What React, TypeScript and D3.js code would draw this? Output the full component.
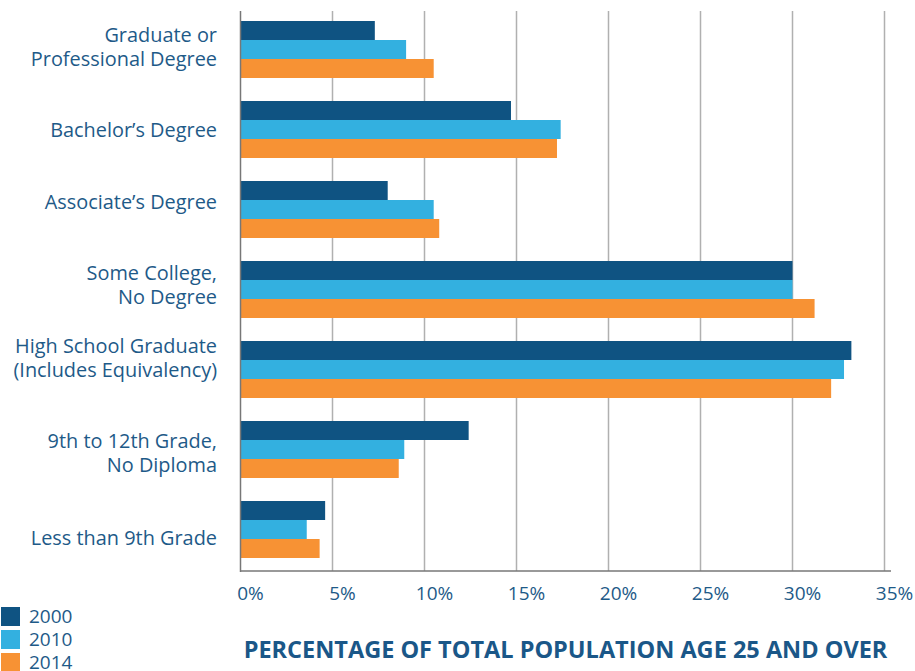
import React, { useEffect, useRef } from "react";
import * as d3 from "d3";

// Education levels, top to bottom (label lines)
const categories = [
  ["Graduate or", "Professional Degree"],
  ["Bachelor’s Degree"],
  ["Associate’s Degree"],
  ["Some College,", "No Degree"],
  ["High School Graduate", "(Includes Equivalency)"],
  ["9th to 12th Grade,", "No Diploma"],
  ["Less than 9th Grade"],
];

const years = ["2000", "2010", "2014"];

// Percent of total population age 25 and over
const values2000 = [7.3, 14.7, 8.0, 30.0, 33.2, 12.4, 4.6];
const values2010 = [9.0, 17.4, 10.5, 30.0, 32.8, 8.9, 3.6];
const values2014 = [10.5, 17.2, 10.8, 31.2, 32.1, 8.6, 4.3];

const xTicks = [0, 5, 10, 15, 20, 25, 30, 35];

// the original labels don't sit exactly on the bar centres
const labelShift = [-3, 0, -8, -5, -12, 3.5, 8];

const colors = ["#0f5382", "#33b0e0", "#f79234"];
const textColor = "#1e5a88";
const font = "'Open Sans', sans-serif";

const App = () => {
  const ref = useRef<SVGSVGElement | null>(null);

  useEffect(() => {
    const svg = d3.select(ref.current);
    svg.selectAll("*").remove();

    const series = [values2000, values2010, values2014];
    const keys = categories.map((c) => c.join(" "));

    const x = d3.scaleLinear().domain([0, 35]).range([240.5, 884.5]);
    const y = d3
      .scaleBand()
      .domain(keys)
      .range([9.5, 569.5])
      .paddingInner(0.2875)
      .paddingOuter(0.14375);
    const sub = d3
      .scaleBand()
      .domain(years)
      .range([0, y.bandwidth()]);

    // gridlines
    svg
      .append("g")
      .selectAll("line")
      .data(xTicks.slice(1))
      .enter()
      .append("line")
      .attr("x1", (d) => x(d))
      .attr("x2", (d) => x(d))
      .attr("y1", 11)
      .attr("y2", 571)
      .attr("stroke", "#b0b0b0")
      .attr("stroke-width", 1.5);

    // bars
    const groups = svg
      .append("g")
      .selectAll("g")
      .data(keys)
      .enter()
      .append("g")
      .attr("transform", (d) => `translate(0, ${y(d)})`);

    groups
      .selectAll("rect")
      .data((d, i) => years.map((yr, j) => ({ yr, v: series[j][i], j })))
      .enter()
      .append("rect")
      .attr("x", x(0))
      .attr("y", (d) => sub(d.yr)!)
      .attr("width", (d) => x(d.v) - x(0))
      .attr("height", sub.bandwidth())
      .attr("fill", (d) => colors[d.j]);

    // axis lines
    svg
      .append("line")
      .attr("x1", 240.5)
      .attr("x2", 240.5)
      .attr("y1", 11)
      .attr("y2", 572)
      .attr("stroke", "#777")
      .attr("stroke-width", 1.5);
    svg
      .append("line")
      .attr("x1", 240)
      .attr("x2", 891)
      .attr("y1", 571)
      .attr("y2", 571)
      .attr("stroke", "#777")
      .attr("stroke-width", 1.5);

    // tick labels
    svg
      .append("g")
      .selectAll("text")
      .data(xTicks)
      .enter()
      .append("text")
      .attr("x", (d) => x(d) + 10)
      .attr("y", 600)
      .attr("text-anchor", "middle")
      .attr("font-family", font)
      .attr("font-size", 19)
      .attr("fill", textColor)
      .text((d) => `${d}%`);

    // category labels
    const labels = svg
      .append("g")
      .selectAll("text")
      .data(categories.map((lines, i) => ({ lines, i })))
      .enter()
      .append("text")
      .attr("text-anchor", "end")
      .attr("font-family", font)
      .attr("font-size", 19.9)
      .attr("fill", textColor);

    labels
      .selectAll("tspan")
      .data((d) =>
        d.lines.map((t, k) => {
          const mid = y(keys[d.i])! + y.bandwidth() / 2 + labelShift[d.i];
          return { t, yy: mid + 7 + (k - (d.lines.length - 1) / 2) * 24 };
        })
      )
      .enter()
      .append("tspan")
      .attr("x", 217)
      .attr("y", (d) => d.yy)
      .text((d) => d.t);

    // legend
    const legend = svg
      .append("g")
      .selectAll("g")
      .data(years)
      .enter()
      .append("g")
      .attr("transform", (d, i) => `translate(1, ${607 + i * 23})`);
    legend
      .append("rect")
      .attr("width", 19)
      .attr("height", 19)
      .attr("fill", (d, i) => colors[i]);
    legend
      .append("text")
      .attr("x", 28)
      .attr("y", 16)
      .attr("font-family", font)
      .attr("font-size", 19)
      .attr("fill", textColor)
      .text((d) => d);

    // axis title
    svg
      .append("text")
      .attr("x", 565.5)
      .attr("y", 658)
      .attr("text-anchor", "middle")
      .attr("font-family", font)
      .attr("font-weight", 700)
      .attr("font-size", 23.5)
      .attr("fill", "#1a5788")
      .text("PERCENTAGE OF TOTAL POPULATION AGE 25 AND OVER");
  }, []);

  return (
    <div style={{ position: "absolute", left: 0, top: 0 }}>
      <svg ref={ref} width={915} height={671} style={{ display: "block" }} />
    </div>
  );
};

export default App;
